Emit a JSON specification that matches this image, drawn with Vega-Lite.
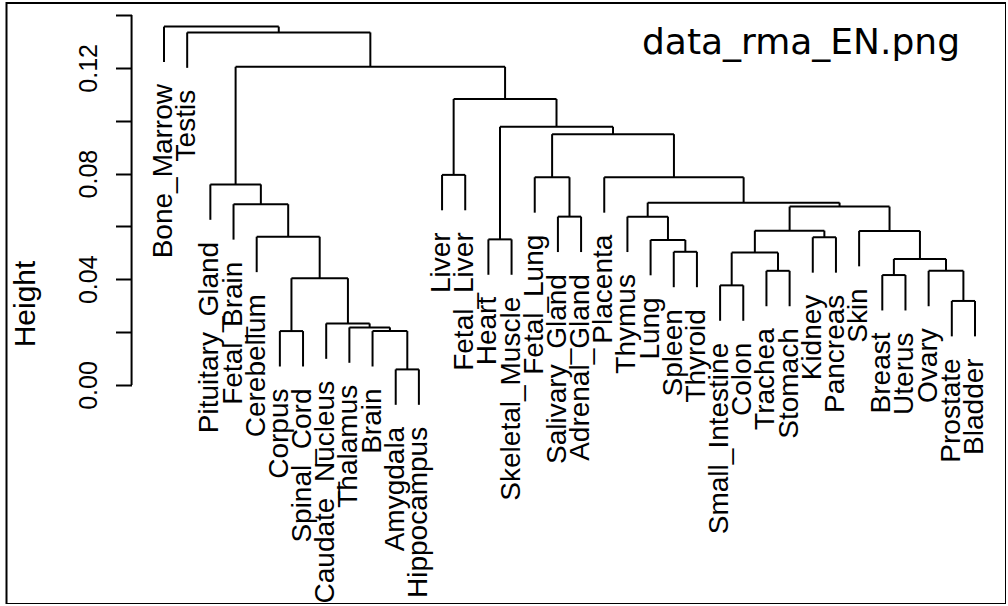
{
  "$schema": "https://vega.github.io/schema/vega-lite/v6.json",
  "width": 999.5,
  "height": 601,
  "autosize": {"type": "none"},
  "padding": {"left": 6.5, "top": 3, "right": 0, "bottom": 0},
  "background": "white",
  "config": {"view": {"stroke": "black", "strokeWidth": 2}, "font": "Liberation Sans"},
  "title": {"text": "data_rma_EN.png", "anchor": "end", "frame": "group", "font": "DejaVu Sans", "fontSize": 36, "fontWeight": "normal", "color": "black", "baseline": "alphabetic", "offset": 0, "dx": -46, "dy": 87},
  "datasets": {
    "segs": [
      {"x": 1, "x2": 5.9524, "y": 0.1356, "y2": 0.1356},
      {"x": 1, "x2": 1, "y": 0.1222, "y2": 0.1356},
      {"x": 5.9524, "x2": 5.9524, "y": 0.1334, "y2": 0.1356},
      {"x": 2, "x2": 9.9048, "y": 0.1334, "y2": 0.1334},
      {"x": 2, "x2": 2, "y": 0.12, "y2": 0.1334},
      {"x": 9.9048, "x2": 9.9048, "y": 0.1204, "y2": 0.1334},
      {"x": 4.0898, "x2": 15.7197, "y": 0.1204, "y2": 0.1204},
      {"x": 4.0898, "x2": 4.0898, "y": 0.0759, "y2": 0.1204},
      {"x": 15.7197, "x2": 15.7197, "y": 0.1082, "y2": 0.1204},
      {"x": 3, "x2": 5.1797, "y": 0.0759, "y2": 0.0759},
      {"x": 3, "x2": 3, "y": 0.0625, "y2": 0.0759},
      {"x": 5.1797, "x2": 5.1797, "y": 0.0684, "y2": 0.0759},
      {"x": 4, "x2": 6.3594, "y": 0.0684, "y2": 0.0684},
      {"x": 4, "x2": 4, "y": 0.055, "y2": 0.0684},
      {"x": 6.3594, "x2": 6.3594, "y": 0.0561, "y2": 0.0684},
      {"x": 5, "x2": 7.7188, "y": 0.0561, "y2": 0.0561},
      {"x": 5, "x2": 5, "y": 0.0427, "y2": 0.0561},
      {"x": 7.7188, "x2": 7.7188, "y": 0.0404, "y2": 0.0561},
      {"x": 6.5, "x2": 8.9375, "y": 0.0404, "y2": 0.0404},
      {"x": 6.5, "x2": 6.5, "y": 0.0204, "y2": 0.0404},
      {"x": 8.9375, "x2": 8.9375, "y": 0.0233, "y2": 0.0404},
      {"x": 6, "x2": 7, "y": 0.0204, "y2": 0.0204},
      {"x": 6, "x2": 6, "y": 0.007, "y2": 0.0204},
      {"x": 7, "x2": 7, "y": 0.007, "y2": 0.0204},
      {"x": 8, "x2": 9.875, "y": 0.0233, "y2": 0.0233},
      {"x": 8, "x2": 8, "y": 0.0099, "y2": 0.0233},
      {"x": 9.875, "x2": 9.875, "y": 0.0218, "y2": 0.0233},
      {"x": 9, "x2": 10.75, "y": 0.0218, "y2": 0.0218},
      {"x": 9, "x2": 9, "y": 0.0084, "y2": 0.0218},
      {"x": 10.75, "x2": 10.75, "y": 0.0204, "y2": 0.0218},
      {"x": 10, "x2": 11.5, "y": 0.0204, "y2": 0.0204},
      {"x": 10, "x2": 10, "y": 0.007, "y2": 0.0204},
      {"x": 11.5, "x2": 11.5, "y": 0.0059, "y2": 0.0204},
      {"x": 11, "x2": 12, "y": 0.0059, "y2": 0.0059},
      {"x": 11, "x2": 11, "y": -0.0075, "y2": 0.0059},
      {"x": 12, "x2": 12, "y": -0.0075, "y2": 0.0059},
      {"x": 13.5, "x2": 17.9395, "y": 0.1082, "y2": 0.1082},
      {"x": 13.5, "x2": 13.5, "y": 0.0795, "y2": 0.1082},
      {"x": 17.9395, "x2": 17.9395, "y": 0.0977, "y2": 0.1082},
      {"x": 13, "x2": 14, "y": 0.0795, "y2": 0.0795},
      {"x": 13, "x2": 13, "y": 0.0661, "y2": 0.0795},
      {"x": 14, "x2": 14, "y": 0.0661, "y2": 0.0795},
      {"x": 15.5, "x2": 20.3789, "y": 0.0977, "y2": 0.0977},
      {"x": 15.5, "x2": 15.5, "y": 0.0551, "y2": 0.0977},
      {"x": 20.3789, "x2": 20.3789, "y": 0.0949, "y2": 0.0977},
      {"x": 15, "x2": 16, "y": 0.0551, "y2": 0.0551},
      {"x": 15, "x2": 15, "y": 0.0417, "y2": 0.0551},
      {"x": 16, "x2": 16, "y": 0.0417, "y2": 0.0551},
      {"x": 17.75, "x2": 23.0078, "y": 0.0949, "y2": 0.0949},
      {"x": 17.75, "x2": 17.75, "y": 0.0786, "y2": 0.0949},
      {"x": 23.0078, "x2": 23.0078, "y": 0.0786, "y2": 0.0949},
      {"x": 17, "x2": 18.5, "y": 0.0786, "y2": 0.0786},
      {"x": 17, "x2": 17, "y": 0.0652, "y2": 0.0786},
      {"x": 18.5, "x2": 18.5, "y": 0.0637, "y2": 0.0786},
      {"x": 18, "x2": 19, "y": 0.0637, "y2": 0.0637},
      {"x": 18, "x2": 18, "y": 0.0503, "y2": 0.0637},
      {"x": 19, "x2": 19, "y": 0.0503, "y2": 0.0637},
      {"x": 20, "x2": 26.0156, "y": 0.0786, "y2": 0.0786},
      {"x": 20, "x2": 20, "y": 0.0652, "y2": 0.0786},
      {"x": 26.0156, "x2": 26.0156, "y": 0.069, "y2": 0.0786},
      {"x": 21.875, "x2": 30.1563, "y": 0.069, "y2": 0.069},
      {"x": 21.875, "x2": 21.875, "y": 0.0637, "y2": 0.069},
      {"x": 30.1563, "x2": 30.1563, "y": 0.0675, "y2": 0.069},
      {"x": 21, "x2": 22.75, "y": 0.0637, "y2": 0.0637},
      {"x": 21, "x2": 21, "y": 0.0503, "y2": 0.0637},
      {"x": 22.75, "x2": 22.75, "y": 0.0549, "y2": 0.0637},
      {"x": 22, "x2": 23.5, "y": 0.0549, "y2": 0.0549},
      {"x": 22, "x2": 22, "y": 0.0415, "y2": 0.0549},
      {"x": 23.5, "x2": 23.5, "y": 0.0504, "y2": 0.0549},
      {"x": 23, "x2": 24, "y": 0.0504, "y2": 0.0504},
      {"x": 23, "x2": 23, "y": 0.037, "y2": 0.0504},
      {"x": 24, "x2": 24, "y": 0.037, "y2": 0.0504},
      {"x": 28, "x2": 32.3125, "y": 0.0675, "y2": 0.0675},
      {"x": 28, "x2": 28, "y": 0.0584, "y2": 0.0675},
      {"x": 32.3125, "x2": 32.3125, "y": 0.0583, "y2": 0.0675},
      {"x": 26.5, "x2": 29.5, "y": 0.0584, "y2": 0.0584},
      {"x": 26.5, "x2": 26.5, "y": 0.0501, "y2": 0.0584},
      {"x": 29.5, "x2": 29.5, "y": 0.0559, "y2": 0.0584},
      {"x": 25.5, "x2": 27.5, "y": 0.0501, "y2": 0.0501},
      {"x": 25.5, "x2": 25.5, "y": 0.0377, "y2": 0.0501},
      {"x": 27.5, "x2": 27.5, "y": 0.0432, "y2": 0.0501},
      {"x": 25, "x2": 26, "y": 0.0377, "y2": 0.0377},
      {"x": 25, "x2": 25, "y": 0.0243, "y2": 0.0377},
      {"x": 26, "x2": 26, "y": 0.0243, "y2": 0.0377},
      {"x": 27, "x2": 28, "y": 0.0432, "y2": 0.0432},
      {"x": 27, "x2": 27, "y": 0.0298, "y2": 0.0432},
      {"x": 28, "x2": 28, "y": 0.0298, "y2": 0.0432},
      {"x": 29, "x2": 30, "y": 0.0559, "y2": 0.0559},
      {"x": 29, "x2": 29, "y": 0.0425, "y2": 0.0559},
      {"x": 30, "x2": 30, "y": 0.0425, "y2": 0.0559},
      {"x": 31, "x2": 33.625, "y": 0.0583, "y2": 0.0583},
      {"x": 31, "x2": 31, "y": 0.0449, "y2": 0.0583},
      {"x": 33.625, "x2": 33.625, "y": 0.0477, "y2": 0.0583},
      {"x": 32.5, "x2": 34.75, "y": 0.0477, "y2": 0.0477},
      {"x": 32.5, "x2": 32.5, "y": 0.0416, "y2": 0.0477},
      {"x": 34.75, "x2": 34.75, "y": 0.0432, "y2": 0.0477},
      {"x": 32, "x2": 33, "y": 0.0416, "y2": 0.0416},
      {"x": 32, "x2": 32, "y": 0.0282, "y2": 0.0416},
      {"x": 33, "x2": 33, "y": 0.0282, "y2": 0.0416},
      {"x": 34, "x2": 35.5, "y": 0.0432, "y2": 0.0432},
      {"x": 34, "x2": 34, "y": 0.0298, "y2": 0.0432},
      {"x": 35.5, "x2": 35.5, "y": 0.0318, "y2": 0.0432},
      {"x": 35, "x2": 36, "y": 0.0318, "y2": 0.0318},
      {"x": 35, "x2": 35, "y": 0.0184, "y2": 0.0318},
      {"x": 36, "x2": 36, "y": 0.0184, "y2": 0.0318}
    ],
    "axisline": [{"x": -0.4, "y": 0, "y2": 0.14}],
    "leaves": [
      {"name": "Bone_Marrow", "pos": 1, "bottom": 0.1222},
      {"name": "Testis", "pos": 2, "bottom": 0.12},
      {"name": "Pituitary_Gland", "pos": 3, "bottom": 0.0625},
      {"name": "Fetal_Brain", "pos": 4, "bottom": 0.055},
      {"name": "Cerebellum", "pos": 5, "bottom": 0.0427},
      {"name": "Corpus", "pos": 6, "bottom": 0.007},
      {"name": "Spinal_Cord", "pos": 7, "bottom": 0.007},
      {"name": "Caudate_Nucleus", "pos": 8, "bottom": 0.0099},
      {"name": "Thalamus", "pos": 9, "bottom": 0.0084},
      {"name": "Brain", "pos": 10, "bottom": 0.007},
      {"name": "Amygdala", "pos": 11, "bottom": -0.0075},
      {"name": "Hippocampus", "pos": 12, "bottom": -0.0075},
      {"name": "Liver", "pos": 13, "bottom": 0.0661},
      {"name": "Fetal_Liver", "pos": 14, "bottom": 0.0661},
      {"name": "Heart", "pos": 15, "bottom": 0.0417},
      {"name": "Skeletal_Muscle", "pos": 16, "bottom": 0.0417},
      {"name": "Fetal_Lung", "pos": 17, "bottom": 0.0652},
      {"name": "Salivary_Gland", "pos": 18, "bottom": 0.0503},
      {"name": "Adrenal_Gland", "pos": 19, "bottom": 0.0503},
      {"name": "Placenta", "pos": 20, "bottom": 0.0652},
      {"name": "Thymus", "pos": 21, "bottom": 0.0503},
      {"name": "Lung", "pos": 22, "bottom": 0.0415},
      {"name": "Spleen", "pos": 23, "bottom": 0.037},
      {"name": "Thyroid", "pos": 24, "bottom": 0.037},
      {"name": "Small_Intestine", "pos": 25, "bottom": 0.0243},
      {"name": "Colon", "pos": 26, "bottom": 0.0243},
      {"name": "Trachea", "pos": 27, "bottom": 0.0298},
      {"name": "Stomach", "pos": 28, "bottom": 0.0298},
      {"name": "Kidney", "pos": 29, "bottom": 0.0425},
      {"name": "Pancreas", "pos": 30, "bottom": 0.0425},
      {"name": "Skin", "pos": 31, "bottom": 0.0449},
      {"name": "Breast", "pos": 32, "bottom": 0.0282},
      {"name": "Uterus", "pos": 33, "bottom": 0.0282},
      {"name": "Ovary", "pos": 34, "bottom": 0.0298},
      {"name": "Prostate", "pos": 35, "bottom": 0.0184},
      {"name": "Bladder", "pos": 36, "bottom": 0.0184}
    ]
  },
  "layer": [
    {
      "data": {"name": "segs"},
      "mark": {"type": "rule", "color": "black", "strokeWidth": 2},
      "encoding": {
        "x": {"field": "x", "type": "quantitative", "scale": {"domain": [-5.798, 37.339], "nice": false, "zero": false}, "axis": null},
        "x2": {"field": "x2"},
        "y": {"field": "y", "type": "quantitative", "scale": {"domain": [-0.08286, 0.14453], "nice": false, "zero": false},
          "axis": {"values": [0, 0.02, 0.04, 0.06, 0.08, 0.1, 0.12, 0.14],
            "labelExpr": "abs(round(datum.value*100) % 4) == 0 ? format(datum.value, '.2f') : ''",
            "domain": false, "grid": false, "ticks": true, "tickSize": 16, "tickColor": "black", "tickWidth": 2,
            "labelAngle": 270, "labelAlign": "center", "labelBaseline": "alphabetic", "labelPadding": 19,
            "labelFontSize": 25, "labelFont": "Liberation Sans", "labelColor": "black", "labelOverlap": false, "labelFlush": false,
            "offset": -125, "title": "Height", "titleFontSize": 30, "titleFont": "Liberation Sans", "titleFontWeight": "normal", "titleColor": "black", "titlePadding": 36}},
        "y2": {"field": "y2"}
      }
    },
    {
      "data": {"name": "axisline"},
      "mark": {"type": "rule", "color": "black", "strokeWidth": 2},
      "encoding": {
        "x": {"field": "x", "type": "quantitative"},
        "y": {"field": "y", "type": "quantitative"},
        "y2": {"field": "y2"}
      }
    },
    {
      "data": {"name": "leaves"},
      "mark": {"type": "text", "angle": 270, "align": "right", "baseline": "middle", "dx": -22, "fontSize": 28, "font": "Liberation Sans", "color": "black"},
      "encoding": {
        "x": {"field": "pos", "type": "quantitative"},
        "y": {"field": "bottom", "type": "quantitative"},
        "text": {"field": "name"}
      }
    }
  ]
}
